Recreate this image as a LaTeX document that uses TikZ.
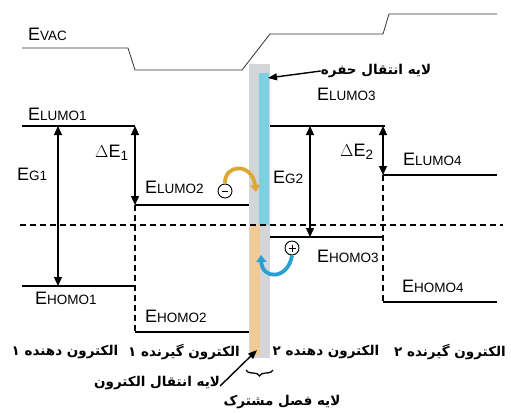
\documentclass[tikz,border=0pt]{standalone}
\usepackage{fontspec}
\setmainfont{Liberation Sans}
\newfontfamily\fafont[Script=Arabic]{DejaVu Sans}
\TeXXeTstate=1
\usetikzlibrary{arrows.meta,decorations.pathreplacing}
\definecolor{bargray}{RGB}{212,213,216}
\definecolor{barblue}{RGB}{125,208,226}
\definecolor{barorange}{RGB}{243,202,150}
\definecolor{arrorange}{RGB}{222,168,52}
\definecolor{arrblue}{RGB}{40,160,212}
\newcommand{\EL}[1]{{\fontsize{18}{18}\selectfont E}{\fontsize{13.5}{13.5}\selectfont #1}}
\newcommand{\DE}[1]{{\fontsize{18}{18}\selectfont $\Delta$E}\raisebox{-3pt}{\fontsize{13.5}{13.5}\selectfont #1}}
\newcommand{\fa}[1]{{\fafont\bfseries\fontsize{13.5}{15}\selectfont\beginR #1\endR}}
\tikzset{
  level/.style={line width=2.6pt},
  gaparrow/.style={line width=1.3pt,{Triangle[width=8pt,length=9pt]}-{Triangle[width=8pt,length=9pt]}},
  dashline/.style={line width=1.2pt,dash pattern=on 6pt off 4pt},
  vacline/.style={line width=0.8pt,black!80},
  lab/.style={inner sep=0pt,anchor=base west},
  falab/.style={inner sep=0pt},
  pointer/.style={line width=1.4pt,-{Triangle[width=7pt,length=9pt]}},
  charge/.style={circle,draw,fill=white,minimum size=14pt,inner sep=0pt,line width=0.9pt}
}
\begin{document}
\begin{tikzpicture}[x=1pt,y=-1pt]
\useasboundingbox (0,0) rectangle (511,413);
% interface bar
\fill[bargray] (249,64) rectangle (270,358);
\fill[barblue] (259,73) rectangle (269,225);
\fill[barorange] (250,225) rectangle (260,355);
% vacuum level
\draw[vacline] (22,48) -- (128,48) -- (135,70) -- (242,70) -- (270,34) -- (383,34) -- (389,14) -- (497,14);
\node[lab] (evac) at (28,40) {\EL{VAC}};
% level coordinates
\coordinate (L1a) at (22,126); \coordinate (L1b) at (135,126);
\coordinate (H1a) at (22,286); \coordinate (H1b) at (135,286);
\coordinate (L2a) at (135,205); \coordinate (L2b) at (249,205);
\coordinate (H2a) at (135,332); \coordinate (H2b) at (249,332);
\coordinate (L3a) at (270,126); \coordinate (L3b) at (385,126);
\coordinate (H3a) at (270,237); \coordinate (H3b) at (383,237);
\coordinate (L4a) at (383,175); \coordinate (L4b) at (497,175);
\coordinate (H4a) at (383,302); \coordinate (H4b) at (497,302);
\coordinate (G1t) at (58,126); \coordinate (G1b) at (58,286);
\coordinate (G2t) at (310,126); \coordinate (G2b) at (310,237);
\coordinate (D2t) at (383,126);
\coordinate (F1) at (20,225); \coordinate (F2) at (503,225);
% dashed lines
\draw[dashline] (F1) -- (F2);
\draw[dashline] (L2a) -- (H2a);
\draw[dashline] (L4a) -- (H4a);
% levels
\draw[level] (L1a) -- (L1b);
\draw[level] (H1a) -- (H1b);
\draw[level] (L2a) -- (L2b);
\draw[level] (H2a) -- (H2b);
\draw[level] (L3a) -- (L3b);
\draw[level] (H3a) -- (H3b);
\draw[level] (L4a) -- (L4b);
\draw[level] (H4a) -- (H4b);
% gap arrows
\draw[gaparrow] (G1t) -- (G1b);
\draw[gaparrow] (L1b) -- (L2a);
\draw[gaparrow] (G2t) -- (G2b);
\draw[gaparrow] (D2t) -- (L4a);
% labels
\node[lab] (lumo1) at (28,120) {\EL{LUMO1}};
\node[lab] (homo1) at (35,304) {\EL{HOMO1}};
\node[lab] (eg1) at (17,180) {\EL{G1}};
\node[lab] (de1) at (95,157) {\DE{1}};
\node[lab] (lumo2) at (145,193) {\EL{LUMO2}};
\node[lab] (homo2) at (145,322) {\EL{HOMO2}};
\node[lab] (lumo3) at (317,100) {\EL{LUMO3}};
\node[lab] (eg2) at (273,183) {\EL{G2}};
\node[lab] (de2) at (340,156) {\DE{2}};
\node[lab] (lumo4) at (403,165) {\EL{LUMO4}};
\node[lab] (homo3) at (317,262) {\EL{HOMO3}};
\node[lab] (homo4) at (402,292) {\EL{HOMO4}};
% charges
\node[charge] (minus) at (225,191) {};
\draw[line width=1pt] ([xshift=-3pt]minus.center) -- ([xshift=3pt]minus.center);
\node[charge] (plus) at (292,248) {};
\draw[line width=1pt] ([xshift=-3.5pt]plus.center) -- ([xshift=3.5pt]plus.center);
\draw[line width=1pt] ([yshift=-3.5pt]plus.center) -- ([yshift=3.5pt]plus.center);
% transfer arrows
\coordinate (otip) at (256,192);
\coordinate (btip) at (261,255);
\draw[arrorange,line width=3.8pt,-{Triangle[width=10pt,length=7pt]}] (minus.north) .. controls (224,164) and (252,162) .. (otip);
\draw[arrblue,line width=3.8pt,-{Triangle[width=10pt,length=7pt]}] (plus.south) .. controls (288,280) and (262,280) .. (btip);
% persian labels
\node[falab] (htl) at (376,71) {\fa{لایه انتقال حفره}};
\coordinate (htltip) at (268,78);
\draw[pointer] (htl.west) -- (htltip);
\node[falab] (etl) at (157,383) {\fa{لایه انتقال الکترون}};
\coordinate (etltip) at (257,350);
\draw[pointer] ([yshift=-3pt]etl.east) -- (etltip);
\node[falab] (d1) at (65,352) {\fa{الکترون دهنده ۱}};
\node[falab] (a1) at (184,352) {\fa{الکترون گیرنده ۱}};
\node[falab] (d2) at (326,352) {\fa{الکترون دهنده ۲}};
\node[falab] (a2) at (450,352) {\fa{الکترون گیرنده ۲}};
\coordinate (br1) at (246,370); \coordinate (br2) at (273,370);
\draw[line width=1.3pt,decorate,decoration={brace,mirror,amplitude=6pt}] (br1) -- (br2);
\node[falab] (ifl) at (282,402) {\fa{لایه فصل مشترک}};
\end{tikzpicture}
\end{document}
